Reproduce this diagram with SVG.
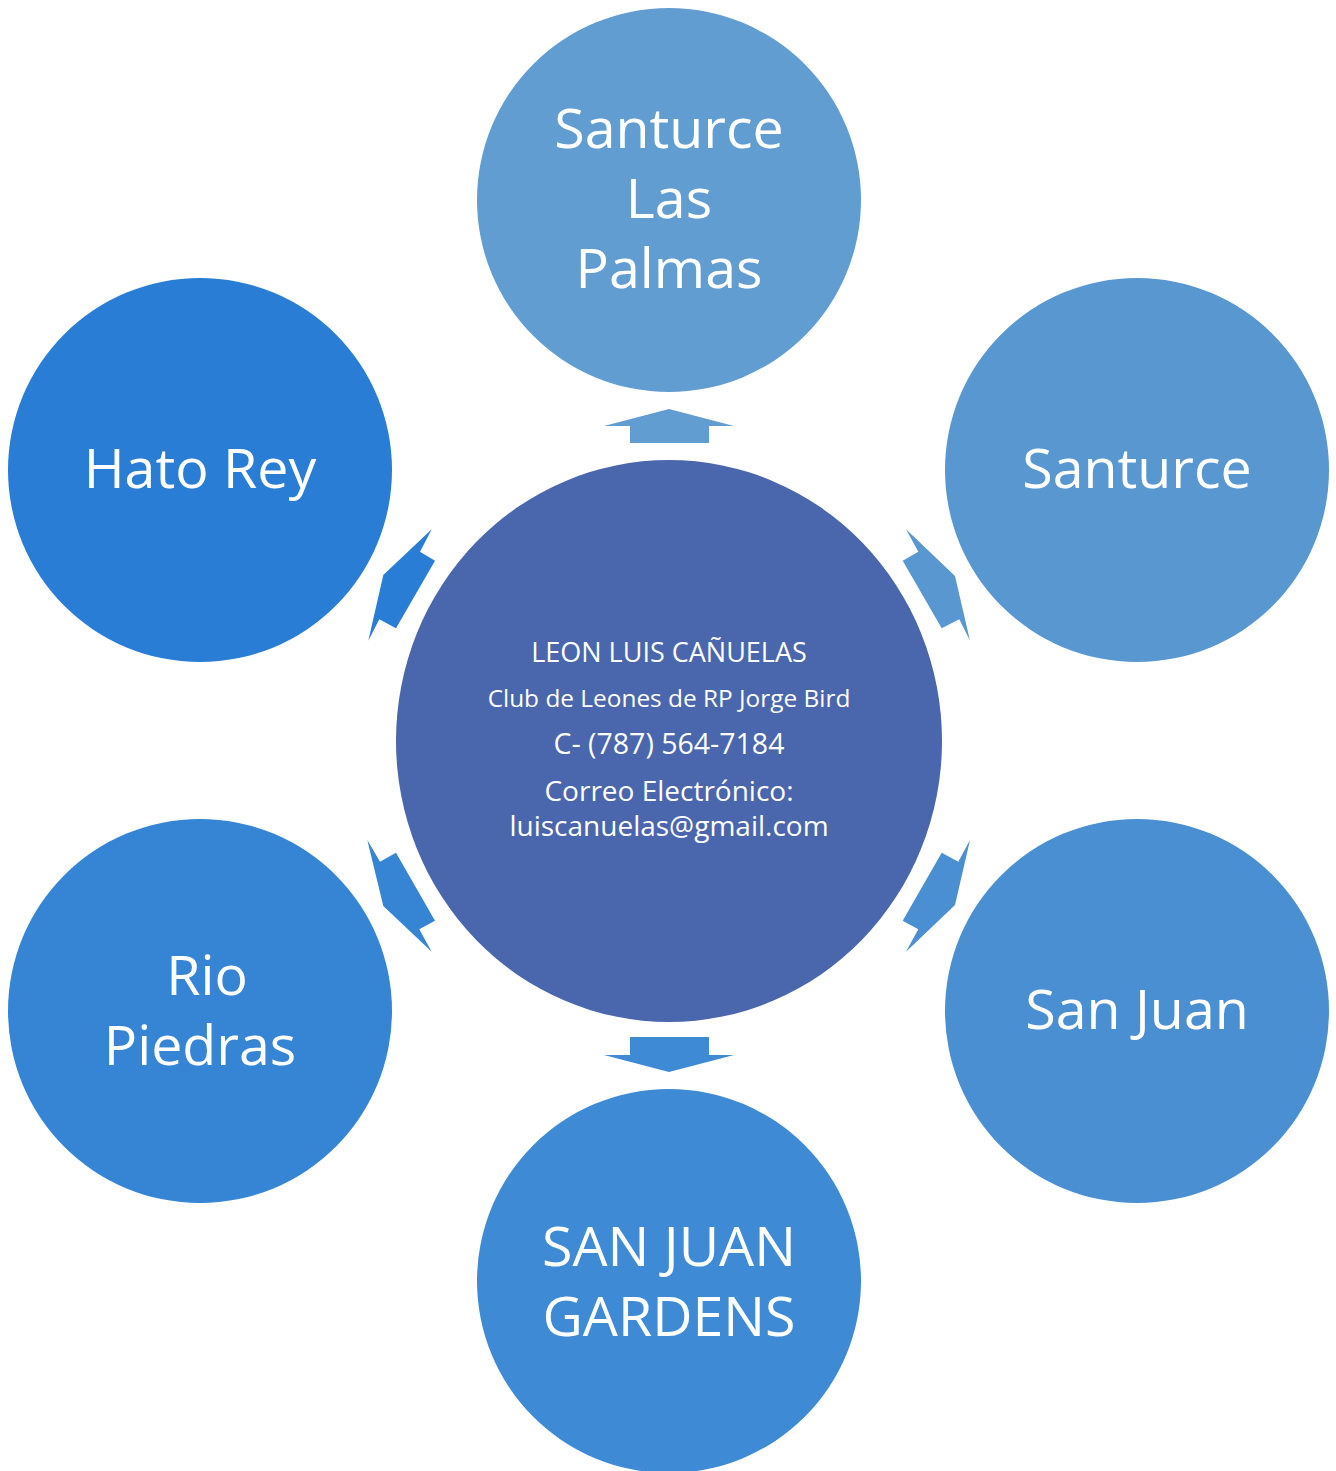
<svg xmlns="http://www.w3.org/2000/svg" width="1336" height="1471" viewBox="0 0 1336 1471">
<style>
.lbl{font-family:"Open Sans","Noto Sans","Liberation Sans",sans-serif;fill:#ffffff;text-anchor:middle;font-size:55.5px}
.ctr{font-family:"Open Sans","Noto Sans","Liberation Sans",sans-serif;fill:#ffffff;text-anchor:middle}
</style>
<rect width="1336" height="1471" fill="#ffffff"/>
<g id="connectors">
<polygon points="669,409 734,426 709,426 709,443 630,443 630,426 604,426" fill="#629DD1"/>
<polygon points="906,529.3 918.3,551.7 902.7,560.7 941.7,628.3 959.3,619.3 970,640.7 955,576" fill="#5897D0"/>
<polygon points="431.7,529.3 420,551.7 435,560.7 396,628.3 379.3,619.3 368.3,640.7 383.3,575" fill="#2A7DD4"/>
<polygon points="367.3,840 380,861.7 396,852.7 435,920.7 419.3,929.3 431.7,951.7 383.3,906" fill="#3585D4"/>
<polygon points="970,840 958.3,861.7 941.7,852.7 902.7,920.7 918.3,929.3 906,951.7 955,905" fill="#4A8FD2"/>
<polygon points="630,1037 709,1037 709,1055 734,1055 669,1072 604,1055 630,1055" fill="#3F8AD5"/>
</g>
<g id="center">
<ellipse cx="669" cy="741" rx="273" ry="281" fill="#4A66AC"/>
<text class="ctr" x="669" y="662" font-size="27">LEON LUIS CAÑUELAS</text>
<text class="ctr" x="669" y="707" font-size="24.4">Club de Leones de RP Jorge Bird</text>
<text class="ctr" x="669" y="754" font-size="28.5">C- (787) 564-7184</text>
<text class="ctr" x="669" y="801" font-size="28">Correo Electrónico:</text>
<text class="ctr" x="669" y="836" font-size="28">luiscanuelas@gmail.com</text>
</g>
<g id="santurce-las-palmas">
<circle cx="669" cy="200" r="192" fill="#629DD1"/>
<text class="lbl" x="669" y="148">Santurce</text>
<text class="lbl" x="669" y="218">Las</text>
<text class="lbl" x="669" y="288">Palmas</text>
</g>
<g id="santurce">
<circle cx="1137" cy="470" r="192" fill="#5897D0"/>
<text class="lbl" x="1137" y="488">Santurce</text>
</g>
<g id="san-juan">
<circle cx="1137" cy="1011" r="192" fill="#4A8FD2"/>
<text class="lbl" x="1137" y="1029" font-size="57">San Juan</text>
</g>
<g id="san-juan-gardens">
<circle cx="669" cy="1281" r="192" fill="#3F8AD5"/>
<text class="lbl" x="669" y="1266" font-size="58">SAN JUAN</text>
<text class="lbl" x="669" y="1336" font-size="58">GARDENS</text>
</g>
<g id="rio-piedras">
<circle cx="200" cy="1011" r="192" fill="#3585D4"/>
<text class="lbl" x="207" y="995">Rio</text>
<text class="lbl" x="200" y="1065">Piedras</text>
</g>
<g id="hato-rey">
<circle cx="200" cy="470" r="192" fill="#2A7DD4"/>
<text class="lbl" x="200" y="488">Hato Rey</text>
</g>
</svg>
